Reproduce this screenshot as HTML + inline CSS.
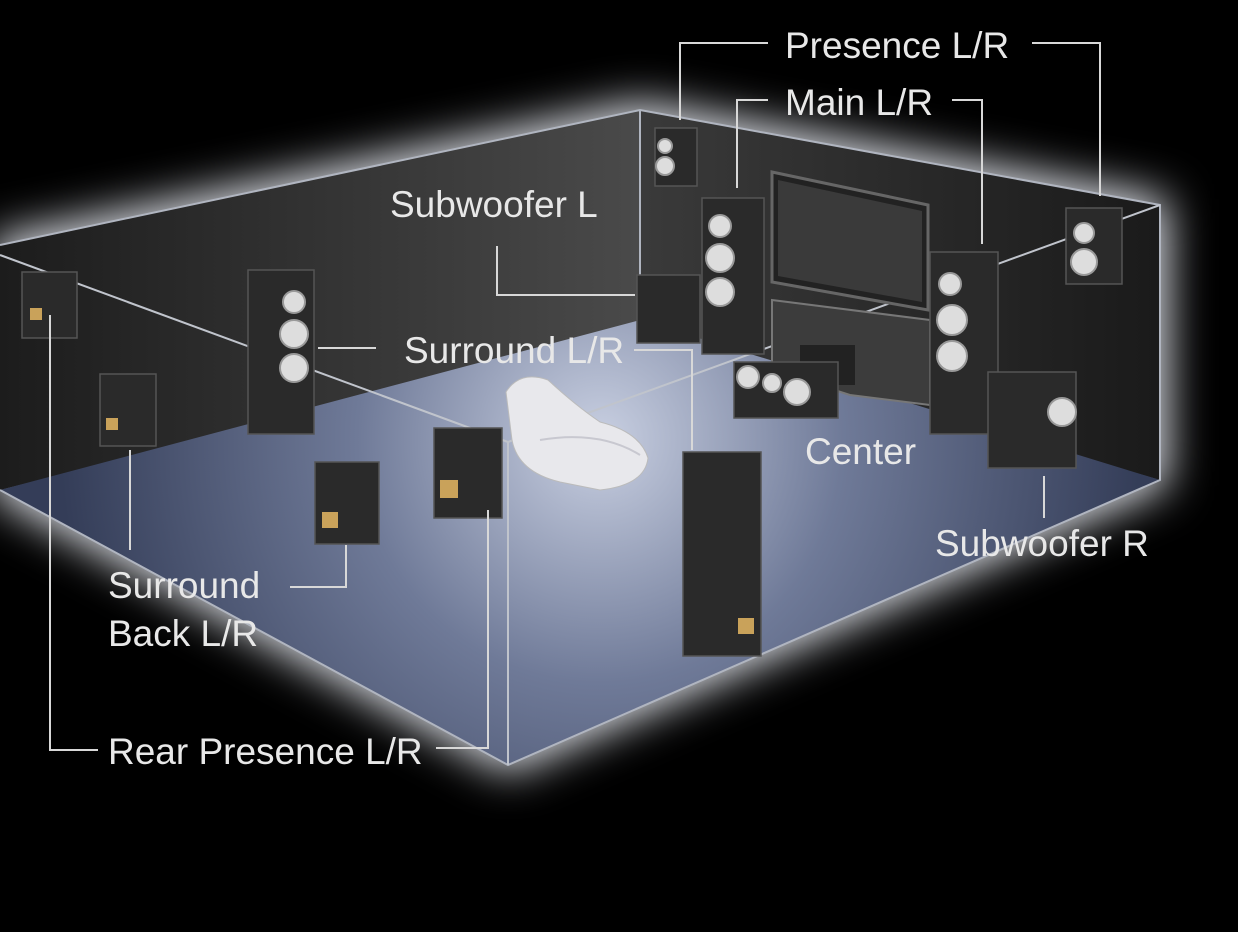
<!DOCTYPE html>
<html><head><style>
html,body{margin:0;padding:0;background:#000;}
svg{display:block}
text{font-family:"Liberation Sans",sans-serif;fill:#e8e8e8;font-size:37px;}
</style></head><body>
<svg width="1238" height="932" viewBox="0 0 1238 932" xmlns="http://www.w3.org/2000/svg">
<defs>
<radialGradient id="fl" cx="600" cy="440" r="540" gradientUnits="userSpaceOnUse">
<stop offset="0" stop-color="#c9d0e2"/><stop offset="0.45" stop-color="#6f7a98"/><stop offset="1" stop-color="#343d58"/>
</radialGradient>
<linearGradient id="lw" x1="0" y1="0" x2="1" y2="0">
<stop offset="0" stop-color="#1c1c1c"/><stop offset="1" stop-color="#4a4a4a"/>
</linearGradient>
<linearGradient id="bw" x1="0" y1="0" x2="1" y2="0">
<stop offset="0" stop-color="#3a3a3a"/><stop offset="1" stop-color="#1a1a1a"/>
</linearGradient>
<filter id="glow" x="-20%" y="-20%" width="140%" height="140%"><feGaussianBlur stdDeviation="22"/></filter>
</defs>
<rect width="1238" height="932" fill="#000"/>
<polygon points="0,245 640,110 1160,205 1160,480 508,765 0,490" fill="#e4e7ee" stroke="#e4e7ee" stroke-width="14" filter="url(#glow)"/>
<polygon points="0,245 640,110 640,330 0,490" fill="url(#lw)"/>
<polygon points="640,110 1160,205 1160,480 640,330" fill="url(#bw)"/>
<polygon points="0,490 640,320 1160,480 508,765" fill="url(#fl)"/>
<g stroke="#b0b5c0" stroke-width="2" fill="none">
<polyline points="0,245 640,110 1160,205 1160,480 508,765 0,490"/>
<line x1="640" y1="110" x2="640" y2="320"/>
<line x1="0" y1="255" x2="508" y2="442" stroke="#c0c4cc"/>
<line x1="508" y1="442" x2="1160" y2="205" stroke="#c0c4cc"/>
<line x1="508" y1="442" x2="508" y2="765" stroke="#c0c4cc"/>
</g>
<polygon points="772,172 928,205 928,310 772,282" fill="#222" stroke="#666" stroke-width="3"/>
<polygon points="778,180 922,211 922,302 778,276" fill="#3a3a3a"/>
<polygon points="772,300 930,320 930,405 850,395 772,370" fill="#3c3c3c" stroke="#777" stroke-width="2"/>
<rect x="800" y="345" width="55" height="40" fill="#222"/>
<g fill="#2a2a2a" stroke="#555" stroke-width="1.5">
<rect x="655" y="128" width="42" height="58"/>
<rect x="702" y="198" width="62" height="156"/>
<rect x="930" y="252" width="68" height="182"/>
<rect x="1066" y="208" width="56" height="76"/>
<rect x="637" y="275" width="63" height="68"/>
<rect x="988" y="372" width="88" height="96"/>
<rect x="734" y="362" width="104" height="56"/>
<rect x="248" y="270" width="66" height="164"/>
<rect x="22" y="272" width="55" height="66"/>
<rect x="100" y="374" width="56" height="72"/>
<rect x="315" y="462" width="64" height="82"/>
<rect x="434" y="428" width="68" height="90"/>
<rect x="683" y="452" width="78" height="204"/>
</g>
<g fill="#ddd" stroke="#999" stroke-width="2">
<circle cx="665" cy="146" r="7"/><circle cx="665" cy="166" r="9"/>
<circle cx="720" cy="226" r="11"/><circle cx="720" cy="258" r="14"/><circle cx="720" cy="292" r="14"/>
<circle cx="950" cy="284" r="11"/><circle cx="952" cy="320" r="15"/><circle cx="952" cy="356" r="15"/>
<circle cx="1084" cy="233" r="10"/><circle cx="1084" cy="262" r="13"/>
<circle cx="748" cy="377" r="11"/><circle cx="772" cy="383" r="9"/><circle cx="797" cy="392" r="13"/>
<circle cx="294" cy="302" r="11"/><circle cx="294" cy="334" r="14"/><circle cx="294" cy="368" r="14"/>
<circle cx="1062" cy="412" r="14"/>
</g>
<g fill="#c9a25a">
<rect x="30" y="308" width="12" height="12"/><rect x="106" y="418" width="12" height="12"/>
<rect x="322" y="512" width="16" height="16"/><rect x="440" y="480" width="18" height="18"/>
<rect x="738" y="618" width="16" height="16"/>
</g>
<path d="M506,392 Q520,370 548,380 Q575,405 600,422 Q640,432 648,458 Q645,485 600,490 L560,482 Q518,472 512,440 Z" fill="#e8e8ec" stroke="#bbb"/>
<path d="M540,440 Q600,430 640,455" fill="none" stroke="#c8c8d0" stroke-width="2"/>
<g stroke="#d8d8d8" stroke-width="2" fill="none">
<polyline points="680,120 680,43 768,43"/>
<polyline points="1032,43 1100,43 1100,196"/>
<polyline points="737,188 737,100 768,100"/>
<polyline points="952,100 982,100 982,244"/>
<polyline points="497,246 497,295 635,295"/>
<line x1="318" y1="348" x2="376" y2="348"/>
<polyline points="634,350 692,350 692,450"/>
<polyline points="1044,476 1044,518"/>
<polyline points="130,450 130,550"/>
<polyline points="290,587 346,587 346,545"/>
<polyline points="50,315 50,750 98,750"/>
<polyline points="436,748 488,748 488,510"/>
</g>
<text x="785" y="58">Presence L/R</text>
<text x="785" y="115">Main L/R</text>
<text x="390" y="217">Subwoofer L</text>
<text x="404" y="363">Surround L/R</text>
<text x="805" y="464">Center</text>
<text x="935" y="556">Subwoofer R</text>
<text x="108" y="598">Surround</text>
<text x="108" y="646">Back L/R</text>
<text x="108" y="764">Rear Presence L/R</text>
</svg>
</body></html>
